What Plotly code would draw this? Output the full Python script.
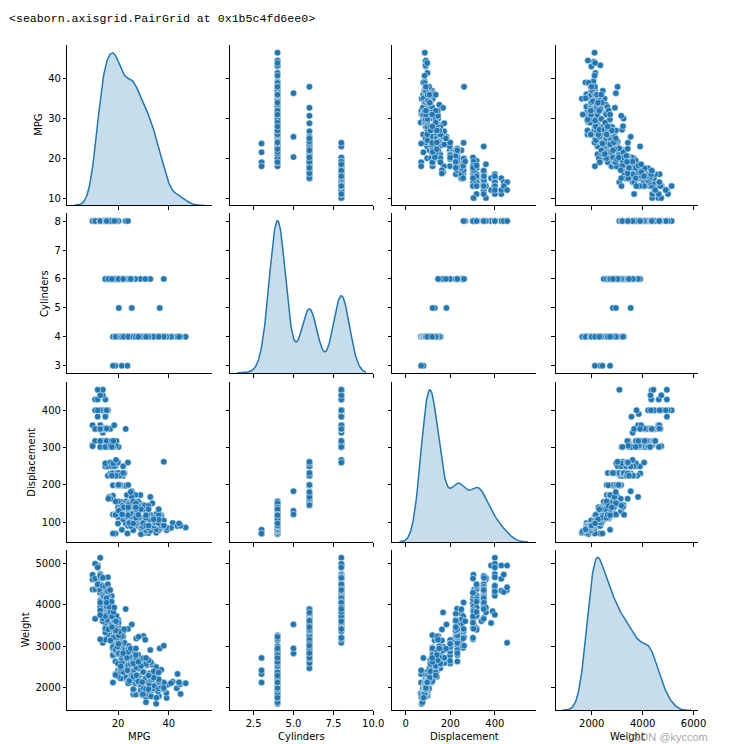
import numpy as np
import plotly.graph_objects as go

# ---------------- data (auto-mpg style) ----------------
mpg = [18,15,18,16,17,15,14,14,14,15,15,14,15,14,24,22,18,21,27,26,25,24,25,26,21,10,10,11,10,
       27,28,25,19,16,17,19,18,14,14,14,14,12,13,13,18,22,19,18,23,28,30,30,31,35,27,26,24,25,23,20,21,
       13,14,15,14,17,11,13,12,13,19,15,13,13,14,18,22,21,26,22,28,23,28,27,13,14,13,14,15,12,13,13,14,
       13,12,13,18,16,18,18,23,26,11,12,13,12,18,20,21,22,18,19,21,26,15,16,29,24,20,19,15,24,20,11,20,
       21,19,15,31,26,32,25,16,16,18,16,13,14,14,14,29,26,26,31,32,28,24,26,24,26,31,19,18,15,15,16,15,
       16,14,17,16,15,18,21,20,13,29,23,20,23,24,25,24,18,29,19,23,23,22,25,33,28,25,25,26,27,17.5,16,
       15.5,14.5,22,22,24,22.5,29,24.5,29,33,20,18,18.5,17.5,29.5,32,28,26.5,20,13,19,19,16.5,16.5,13,
       13,13,31.5,30,36,25.5,33.5,17.5,17,15.5,15,17.5,20.5,19,18.5,16,15.5,15.5,16,29,24.5,26,25.5,30.5,
       33.5,30,30.5,22,21.5,21.5,43.1,36.1,32.8,39.4,36.1,19.9,19.4,20.2,19.2,20.5,20.2,25.1,20.5,19.4,
       20.6,20.8,18.6,18.1,19.2,17.7,18.1,17.5,30,27.5,27.2,30.9,21.1,23.2,23.8,23.9,20.3,17,21.6,16.2,
       31.5,29.5,21.5,19.8,22.3,20.2,20.6,17,17.6,16.5,18.2,16.9,15.5,19.2,18.5,31.9,34.1,35.7,27.4,25.4,
       23,27.2,23.9,34.2,34.5,31.8,37.3,28.4,28.8,26.8,33.5,41.5,38.1,32.1,37.2,28,26.4,24.3,19.1,34.3,
       29.8,31.3,37,32.2,46.6,27.9,40.8,44.3,43.4,36.4,30,44.6,33.8,29.8,32.7,23.7,35,32.4,27.2,26.6,25.8,
       23.5,30,39.1,39,35.1,32.3,37,37.7,34.1,34.7,34.4,29.9,33,34.5,33.7,32.4,32.9,31.6,28.1,30.7,25.4,
       24.2,22.4,20.2,17.6,28,27,34,31,29,27,24,36,37,31,38,36,36,36,34,38,32,38,25,38,26,22,32,36,27,27,
       44,32,28,31]
cylinders = [8,8,8,8,8,8,8,8,8,8,8,8,8,8,4,6,6,6,4,4,4,4,4,4,6,8,8,8,8,
             4,4,4,6,6,6,6,6,8,8,8,8,8,8,8,6,4,6,6,4,4,4,4,4,4,4,4,4,4,4,4,4,
             8,8,8,8,8,8,8,8,8,3,8,8,8,8,4,4,4,4,4,4,4,4,4,8,8,8,8,8,8,8,8,8,
             8,8,8,6,6,6,6,6,4,8,8,8,8,6,4,4,4,3,4,6,4,8,8,4,4,4,4,8,4,6,8,6,
             6,6,6,4,4,4,4,6,6,6,8,8,8,8,8,4,4,4,4,4,4,4,4,4,4,4,6,6,6,6,8,8,
             8,8,6,6,6,6,6,8,8,4,4,6,4,4,4,4,6,4,6,4,4,4,4,4,4,4,4,4,4,8,8,
             8,8,6,6,6,6,4,4,4,4,6,6,6,6,4,4,4,4,4,8,4,6,6,8,8,
             8,8,4,4,4,4,4,8,8,8,8,6,6,6,6,8,8,8,8,4,4,4,4,4,
             4,4,4,6,4,3,4,4,4,4,4,8,8,8,6,6,6,4,6,6,
             6,6,6,6,8,6,8,8,4,4,4,4,4,4,4,4,5,6,4,6,
             4,4,6,6,4,6,6,8,8,8,8,8,8,8,8,4,4,4,4,5,
             8,4,8,4,4,4,4,4,6,6,4,4,4,4,4,4,4,4,6,4,
             4,4,4,4,4,4,4,4,4,5,4,4,4,4,6,3,4,4,4,4,4,
             6,4,4,4,4,4,4,4,4,4,4,4,4,4,4,4,4,4,4,6,6,
             6,6,6,6,4,4,4,4,4,4,4,4,4,4,4,4,4,4,4,4,4,4,6,6,4,6,4,4,4,4,
             4,4,4,4]
displacement = [307,350,318,304,302,429,454,440,455,390,383,340,400,455,113,198,199,200,97,97,110,107,104,121,199,360,307,318,304,
                97,140,113,232,225,250,250,232,350,400,351,318,383,400,400,258,140,250,250,122,116,79,88,71,72,97,91,113,97.5,97,140,122,
                350,400,318,351,304,429,350,350,400,70,304,307,302,318,121,121,120,96,122,97,120,98,97,350,304,350,302,318,429,400,351,318,
                440,455,360,225,250,232,250,198,97,400,400,360,350,232,97,140,108,70,122,155,98,350,400,68,116,114,121,318,121,156,350,198,
                200,232,250,79,122,71,140,250,258,225,302,350,318,302,304,98,79,97,76,83,90,90,116,120,108,79,225,250,250,250,400,350,
                318,351,231,250,258,225,231,262,302,97,140,232,140,134,90,119,171,90,232,115,120,121,121,91,107,116,140,98,101,305,318,
                304,351,225,250,200,232,85,98,90,91,225,250,250,258,97,85,97,140,130,318,120,156,168,350,350,
                302,318,98,111,79,122,85,305,260,318,302,250,231,225,250,400,350,400,351,97,151,97,140,98,
                98,97,97,146,121,80,90,98,78,85,91,260,318,302,231,200,200,140,225,232,
                231,200,225,258,305,231,302,318,98,134,119,105,134,156,151,119,131,163,121,163,
                89,98,231,200,140,232,225,305,302,351,318,350,351,267,360,89,86,98,121,183,
                350,141,260,105,105,85,91,151,173,173,151,98,89,98,86,151,140,151,225,97,
                134,120,119,108,86,156,85,90,90,121,146,91,97,89,168,70,122,107,135,151,156,
                173,135,79,86,81,97,85,89,91,105,98,98,105,100,107,108,119,120,141,145,168,
                146,231,200,225,112,112,112,112,135,151,140,105,91,91,105,98,120,107,108,91,91,91,181,262,156,232,144,135,151,140,
                97,135,120,119]
weight = [3504,3693,3436,3433,3449,4341,4354,4312,4425,3850,3563,3609,3761,3086,2372,2833,2774,2587,2130,1835,2672,2430,2375,2234,2648,4615,4376,4382,4732,
          2130,2264,2228,2634,3439,3329,3302,3288,4209,4464,4154,4096,4955,4746,5140,2962,2408,3282,3139,2220,2123,2074,2065,1773,1613,1834,1955,2278,2126,2254,2408,2226,
          4274,4385,4135,4129,3672,4633,4502,4456,4422,2330,3892,4098,4294,4077,2933,2511,2979,2189,2395,2288,2506,2164,2100,4100,3672,3988,4042,3777,4952,4464,4363,4237,
          4735,4951,3821,3121,3278,2945,3021,2904,1950,4997,4906,4654,4499,2789,2279,2401,2379,2124,2310,2472,2265,4082,4278,1867,2158,2582,2868,3399,2660,2807,3664,3102,
          2875,2901,3336,1950,2451,1836,2542,3781,3632,3613,4141,4699,4457,4638,4257,2219,1963,2300,1649,2003,2125,2108,2246,2489,2391,2000,3264,3459,3432,3158,4668,4440,
          4498,4657,3907,3897,3730,3785,3039,3221,3169,2171,2639,2914,2592,2702,2223,2545,2984,1937,3211,2694,2957,2945,2671,1795,2464,2220,2572,2255,2202,4215,4190,
          3962,4215,3233,3353,3012,3085,2035,2164,1937,1795,3651,3574,3645,3193,1825,1990,2155,2565,3150,3940,3270,2930,3820,4380,4055,
          3870,3755,2045,2155,1825,2300,1945,3880,4060,4140,4295,3520,3425,3630,3525,4220,4165,4325,4335,1940,2740,2265,2755,2051,
          2075,1985,2190,2815,2600,2720,1985,1800,1985,2070,1800,3365,3735,3570,3535,3155,2965,2720,3430,3210,
          3380,3070,3620,3410,3425,3445,3205,4080,2155,2560,2300,2230,2515,2745,2855,2405,2830,3140,2795,3410,
          1990,2135,3245,2990,2890,3265,3360,3840,3725,3955,3830,4360,4054,3605,3940,1925,1975,1915,2670,3530,
          3900,3190,3420,2200,2150,2020,2130,2670,2595,2700,2556,2144,1968,2120,2019,2678,2870,3003,3381,2188,
          2711,2542,2434,2265,2110,2800,2110,2085,2335,2950,3250,1850,2145,1845,2910,2420,2500,2290,2490,2635,2620,
          2725,2385,1755,1875,1760,2065,1975,2050,1985,2215,2045,2380,2190,2320,2210,2350,2615,2635,3230,3160,2900,
          2930,3415,3060,3465,2605,2640,2395,2575,2525,2735,2865,1980,2025,1970,2125,2125,2160,2205,2245,1965,1965,1995,2945,3015,2585,2835,2665,2370,2950,2790,
          2130,2295,2625,2720]

names = ["MPG", "Cylinders", "Displacement", "Weight"]
columns = [mpg, cylinders, displacement, weight]

# axis ranges and ticks (as in the reference)
ranges = [[0.08, 56.8], [1.04, 10.01], [-59, 584], [580, 6193]]
yranges = [[8.17, 48.45], [2.75, 8.28], [47.2, 475], [1455, 5335]]
xticks = [[20, 40], [2.5, 5.0, 7.5, 10.0], [0, 200, 400], [2000, 4000, 6000]]
xticktext = [["20", "40"], ["2.5", "5.0", "7.5", "10.0"], ["0", "200", "400"], ["2000", "4000", "6000"]]
yticks = [[10, 20, 30, 40], [3, 4, 5, 6, 7, 8], [100, 200, 300, 400], [2000, 3000, 4000, 5000]]

W, H = 729, 744
cols_px = [(60.3, 206.7), (225.7, 371.0), (390.3, 536.0), (556.0, 701.0)]
rows_px = [(37.3, 197.3), (205.0, 365.0), (374.3, 534.0), (541.7, 702.3)]

BLUE = "#1f77b4"
FONT = "DejaVu Sans"


def kde(vals):
    v = np.asarray(vals, float)
    n = len(v)
    bw = v.std(ddof=1) * n ** (-0.2)
    grid = np.linspace(v.min() - 3 * bw, v.max() + 3 * bw, 300)
    dens = np.exp(-0.5 * ((grid[:, None] - v[None, :]) / bw) ** 2).sum(1) / (n * bw * np.sqrt(2 * np.pi))
    return grid, dens


fig = go.Figure()
layout = dict(width=W, height=H, margin=dict(l=0, r=0, t=0, b=0),
              paper_bgcolor="white", plot_bgcolor="white", showlegend=False,
              font=dict(family=FONT, size=10, color="black"))

axis_common = dict(showgrid=False, zeroline=False, showline=True, linecolor="black", linewidth=1,
                   ticks="outside", ticklen=3.5, tickwidth=1, tickcolor="black",
                   tickfont=dict(family=FONT, size=10, color="black"), mirror=False)

for r in range(4):
    for c in range(4):
        k = r * 4 + c + 1
        xa = dict(axis_common, domain=[cols_px[c][0] / W, cols_px[c][1] / W], anchor=f"y{k}",
                  range=ranges[c], tickmode="array", tickvals=xticks[c], ticktext=xticktext[c],
                  showticklabels=(r == 3))
        if r == c:
            # diagonal: density axis; left-spine ticks mirror the row variable's ticks
            g, d = kde(columns[c])
            top = d.max() * 1.05
            lo, hi = yranges[r]
            tv = [(v - lo) / (hi - lo) * top for v in yticks[r]]
            ya = dict(axis_common, domain=[1 - rows_px[r][1] / H, 1 - rows_px[r][0] / H], anchor=f"x{k}",
                      range=[0, top], tickmode="array", tickvals=tv,
                      ticktext=[str(v) for v in yticks[r]], showticklabels=(c == 0))
            fig.add_trace(go.Scatter(x=g, y=d, xaxis=f"x{k}", yaxis=f"y{k}", mode="lines",
                                     line=dict(color=BLUE, width=1.5), fill="tozeroy",
                                     fillcolor="rgba(31,119,180,0.25)", hoverinfo="skip"))
        else:
            ya = dict(axis_common, domain=[1 - rows_px[r][1] / H, 1 - rows_px[r][0] / H], anchor=f"x{k}",
                      range=yranges[r], tickmode="array", tickvals=yticks[r],
                      showticklabels=(c == 0))
            fig.add_trace(go.Scatter(x=columns[c], y=columns[r], xaxis=f"x{k}", yaxis=f"y{k}",
                                     mode="markers",
                                     marker=dict(color=BLUE, size=6.5, line=dict(color="white", width=0.5))))
        layout[f"xaxis{k}"] = xa
        layout[f"yaxis{k}"] = ya

annotations = []
# x axis titles
for c in range(4):
    annotations.append(dict(text=names[c], x=(cols_px[c][0] + cols_px[c][1]) / 2 / W, y=1 - 728.3 / H,
                            xref="paper", yref="paper", xanchor="center", yanchor="middle",
                            showarrow=False, font=dict(family=FONT, size=10, color="black")))
# y axis titles
ytitle_x = [31.0, 36.5, 24.0, 17.5]
for r in range(4):
    annotations.append(dict(text=names[r], x=ytitle_x[r] / W, y=1 - (rows_px[r][0] + rows_px[r][1]) / 2 / H,
                            xref="paper", yref="paper", xanchor="center", yanchor="middle", textangle=-90,
                            showarrow=False, font=dict(family=FONT, size=10, color="black")))
# header output line
annotations.append(dict(text="&lt;seaborn.axisgrid.PairGrid at 0x1b5c4fd6ee0&gt;", x=0, y=1 - 11 / H,
                        xref="paper", yref="paper", xanchor="left", yanchor="middle", showarrow=False,
                        borderpad=0, font=dict(family="Liberation Mono", size=11.6, color="black")))
# watermark
annotations.append(dict(text="CSDN @kyccom", x=713 / W, y=1 - 728.5 / H, xref="paper", yref="paper",
                        xanchor="right", yanchor="middle", showarrow=False,
                        font=dict(family="Liberation Sans", size=11, color="rgba(150,150,150,0.85)")))
layout["annotations"] = annotations

fig.update_layout(**layout)
fig.write_html("out.html")
